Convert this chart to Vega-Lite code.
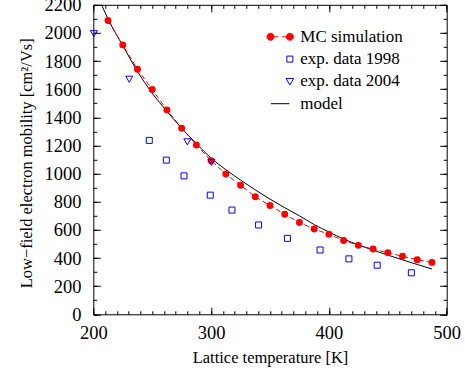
{
  "$schema": "https://vega.github.io/schema/vega-lite/v6.json",
  "autosize": {"type": "none"},
  "padding": {"left": 93.3, "top": 4.8, "right": 18, "bottom": 62},
  "width": 353.4,
  "height": 309.5,
  "background": "white",
  "config": {
    "font": "Liberation Serif",
    "view": {"stroke": "black", "strokeWidth": 1},
    "axis": {"domain": false, "grid": false, "labelFont": "Liberation Serif", "labelFontSize": 18.5, "labelColor": "black", "tickColor": "black", "tickWidth": 1, "titleFont": "Liberation Serif", "titleFontWeight": "normal", "titleColor": "black", "titleFontSize": 16.5, "labelFlush": false, "labelOverlap": false, "format": "d"},
    "legend": {"labelFont": "Liberation Serif"}
  },
  "data": {"values": [
    {"series": "MC simulation", "T": 212.5, "mu": 2088},
    {"series": "MC simulation", "T": 225, "mu": 1915},
    {"series": "MC simulation", "T": 237.5, "mu": 1742},
    {"series": "MC simulation", "T": 250, "mu": 1598},
    {"series": "MC simulation", "T": 262.5, "mu": 1453},
    {"series": "MC simulation", "T": 275, "mu": 1323},
    {"series": "MC simulation", "T": 287.5, "mu": 1204},
    {"series": "MC simulation", "T": 300, "mu": 1092},
    {"series": "MC simulation", "T": 312.5, "mu": 997},
    {"series": "MC simulation", "T": 325, "mu": 917},
    {"series": "MC simulation", "T": 337.5, "mu": 836},
    {"series": "MC simulation", "T": 350, "mu": 773},
    {"series": "MC simulation", "T": 362.5, "mu": 711},
    {"series": "MC simulation", "T": 375, "mu": 653},
    {"series": "MC simulation", "T": 387.5, "mu": 606},
    {"series": "MC simulation", "T": 400, "mu": 569},
    {"series": "MC simulation", "T": 412.5, "mu": 525},
    {"series": "MC simulation", "T": 425, "mu": 490},
    {"series": "MC simulation", "T": 437.5, "mu": 464},
    {"series": "MC simulation", "T": 450, "mu": 437},
    {"series": "MC simulation", "T": 462.5, "mu": 412},
    {"series": "MC simulation", "T": 475, "mu": 388},
    {"series": "MC simulation", "T": 487.5, "mu": 369},
    {"series": "exp. data 1998", "T": 247.5, "mu": 1236},
    {"series": "exp. data 1998", "T": 262, "mu": 1096},
    {"series": "exp. data 1998", "T": 277, "mu": 984},
    {"series": "exp. data 1998", "T": 299.3, "mu": 847},
    {"series": "exp. data 1998", "T": 317.7, "mu": 741},
    {"series": "exp. data 1998", "T": 340.3, "mu": 635},
    {"series": "exp. data 1998", "T": 364.8, "mu": 540},
    {"series": "exp. data 1998", "T": 392.5, "mu": 457},
    {"series": "exp. data 1998", "T": 417, "mu": 394},
    {"series": "exp. data 1998", "T": 441, "mu": 349},
    {"series": "exp. data 1998", "T": 470, "mu": 295},
    {"series": "exp. data 2004", "T": 200.5, "mu": 1995},
    {"series": "exp. data 2004", "T": 230.5, "mu": 1671},
    {"series": "exp. data 2004", "T": 279.8, "mu": 1226},
    {"series": "exp. data 2004", "T": 300.3, "mu": 1080},
    {"series": "model", "T": 207, "mu": 2200},
    {"series": "model", "T": 212.5, "mu": 2100},
    {"series": "model", "T": 225, "mu": 1910},
    {"series": "model", "T": 237.5, "mu": 1727},
    {"series": "model", "T": 250, "mu": 1572},
    {"series": "model", "T": 262.5, "mu": 1443},
    {"series": "model", "T": 275, "mu": 1323},
    {"series": "model", "T": 287.5, "mu": 1213},
    {"series": "model", "T": 300, "mu": 1110},
    {"series": "model", "T": 312.5, "mu": 1028},
    {"series": "model", "T": 325, "mu": 954},
    {"series": "model", "T": 337.5, "mu": 884},
    {"series": "model", "T": 350, "mu": 819},
    {"series": "model", "T": 362.5, "mu": 758},
    {"series": "model", "T": 375, "mu": 700},
    {"series": "model", "T": 387.5, "mu": 638},
    {"series": "model", "T": 400, "mu": 585},
    {"series": "model", "T": 412.5, "mu": 535},
    {"series": "model", "T": 425, "mu": 493},
    {"series": "model", "T": 437.5, "mu": 456},
    {"series": "model", "T": 450, "mu": 421},
    {"series": "model", "T": 462.5, "mu": 387},
    {"series": "model", "T": 475, "mu": 354},
    {"series": "model", "T": 487.5, "mu": 322}
  ]},
  "resolve": {"axis": {"x": "independent", "y": "independent"}},
  "layer": [
    {
      "transform": [{"filter": "datum.series === 'model'"}],
      "mark": {"type": "line", "strokeWidth": 1, "interpolate": "monotone", "color": "#000000"},
      "encoding": {
        "x": {"field": "T", "type": "quantitative", "scale": {"domain": [200, 500], "nice": false, "zero": false},
          "axis": {"orient": "bottom", "values": [200, 300, 400, 500], "format": "d", "labelFont": "Liberation Serif", "ticks": false, "labelPadding": 9.4, "title": "Lattice temperature [K]", "titleY": 48.4, "titleBaseline": "alphabetic"}},
        "y": {"field": "mu", "type": "quantitative", "scale": {"domain": [0, 2200], "nice": false, "zero": false},
          "axis": {"orient": "left", "values": [0, 200, 400, 600, 800, 1000, 1200, 1400, 1600, 1800, 2000, 2200], "format": "d", "labelFont": "Liberation Serif", "ticks": false, "labelPadding": 12.3, "title": "Low−field electron mobility [cm²/Vs]", "titleX": -61.6, "titleY": 158, "titleBaseline": "alphabetic", "titleAngle": -90, "titleAlign": "center"}}
      }
    },
    {
      "transform": [{"filter": "datum.series === 'MC simulation'"}],
      "mark": {"type": "line", "strokeWidth": 1, "strokeDash": [5, 3], "color": "#ff0000"},
      "encoding": {
        "x": {"field": "T", "type": "quantitative", "axis": {"orient": "bottom", "values": [200, 300, 400, 500], "labels": false, "tickSize": -7, "title": null}},
        "y": {"field": "mu", "type": "quantitative", "axis": {"orient": "left", "values": [0, 200, 400, 600, 800, 1000, 1200, 1400, 1600, 1800, 2000, 2200], "labels": false, "tickSize": -7, "title": null}}
      }
    },
    {
      "transform": [{"filter": "datum.series === 'MC simulation'"}],
      "mark": {"type": "point", "shape": "circle", "filled": true, "size": 48, "opacity": 1, "color": "#ff0000"},
      "encoding": {
        "x": {"field": "T", "type": "quantitative", "axis": {"orient": "bottom", "values": [200, 210, 220, 230, 240, 250, 260, 270, 280, 290, 300, 310, 320, 330, 340, 350, 360, 370, 380, 390, 400, 410, 420, 430, 440, 450, 460, 470, 480, 490, 500], "labels": false, "tickSize": -3.5, "title": null}},
        "y": {"field": "mu", "type": "quantitative", "axis": {"orient": "left", "values": [0, 100, 200, 300, 400, 500, 600, 700, 800, 900, 1000, 1100, 1200, 1300, 1400, 1500, 1600, 1700, 1800, 1900, 2000, 2100, 2200], "labels": false, "tickSize": -3.5, "title": null}}
      }
    },
    {
      "transform": [{"filter": "datum.series === 'exp. data 1998'"}],
      "mark": {"type": "point", "shape": "square", "filled": false, "size": 36, "strokeWidth": 1, "opacity": 1, "color": "#0000ff"},
      "encoding": {
        "x": {"field": "T", "type": "quantitative", "axis": {"orient": "top", "values": [200, 300, 400, 500], "labels": false, "tickSize": -7, "title": null}},
        "y": {"field": "mu", "type": "quantitative", "axis": {"orient": "right", "values": [0, 200, 400, 600, 800, 1000, 1200, 1400, 1600, 1800, 2000, 2200], "labels": false, "tickSize": -7, "title": null}}
      }
    },
    {
      "transform": [{"filter": "datum.series === 'exp. data 2004'"}],
      "mark": {"type": "point", "shape": "triangle-down", "filled": false, "size": 49, "strokeWidth": 1, "opacity": 1, "color": "#0000ff"},
      "encoding": {
        "x": {"field": "T", "type": "quantitative", "axis": {"orient": "top", "values": [200, 210, 220, 230, 240, 250, 260, 270, 280, 290, 300, 310, 320, 330, 340, 350, 360, 370, 380, 390, 400, 410, 420, 430, 440, 450, 460, 470, 480, 490, 500], "labels": false, "tickSize": -3.5, "title": null}},
        "y": {"field": "mu", "type": "quantitative", "axis": {"orient": "right", "values": [0, 100, 200, 300, 400, 500, 600, 700, 800, 900, 1000, 1100, 1200, 1300, 1400, 1500, 1600, 1700, 1800, 1900, 2000, 2100, 2200], "labels": false, "tickSize": -3.5, "title": null}}
      }
    },
    {
      "mark": {"type": "point", "filled": false, "opacity": 0, "strokeWidth": 1},
      "encoding": {
        "x": {"field": "T", "type": "quantitative", "axis": null},
        "y": {"field": "mu", "type": "quantitative", "axis": null},
        "color": {"field": "series", "type": "nominal",
          "scale": {"domain": ["MC simulation", "exp. data 1998", "exp. data 2004", "model"], "range": ["#ff0000", "#0000ff", "#0000ff", "#000000"]},
          "legend": {"orient": "none", "legendX": 178.4, "legendY": 23.5, "title": null, "padding": 0, "symbolSize": 256, "symbolOpacity": 1, "labelFont": "Liberation Serif", "labelFontSize": 17, "labelColor": "black", "labelOffset": 11.6, "rowPadding": 4.3, "symbolStrokeWidth": 1}},
        "fill": {"field": "series", "type": "nominal",
          "scale": {"domain": ["MC simulation", "exp. data 1998", "exp. data 2004", "model"], "range": ["#ff0000", "transparent", "transparent", "transparent"]}},
        "shape": {"field": "series", "type": "nominal",
          "scale": {"domain": ["MC simulation", "exp. data 1998", "exp. data 2004", "model"], "range": [
            "M-1.65,0C-1.65,-0.243,-1.453,-0.44,-1.21,-0.44C-0.967,-0.44,-0.77,-0.243,-0.77,0C-0.77,0.243,-0.967,0.44,-1.21,0.44C-1.453,0.44,-1.65,0.243,-1.65,0ZM0.77,0C0.77,-0.243,0.967,-0.44,1.21,-0.44C1.453,-0.44,1.65,-0.243,1.65,0C1.65,0.243,1.453,0.44,1.21,0.44C0.967,0.44,0.77,0.243,0.77,0ZM-0.77,0L-0.25,0M0.25,0L0.77,0",
            "M0.835,-0.375L1.585,-0.375L1.585,0.375L0.835,0.375Z",
            "M0.73,-0.37L1.69,-0.37L1.21,0.46Z",
            "M-1.16,0L1.16,0"]}}
      }
    }
  ]
}
